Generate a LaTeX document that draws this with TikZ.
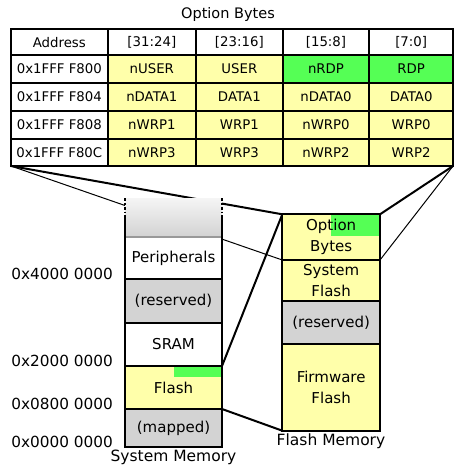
\documentclass[tikz,border=0pt]{standalone}
\usepackage{fontspec}
\setmainfont{DejaVu Sans}
\usetikzlibrary{backgrounds}
\definecolor{yel}{HTML}{FFFFAA}
\definecolor{grn}{HTML}{55FF55}
\definecolor{gry}{HTML}{D3D3D3}
\definecolor{midgray}{HTML}{999999}
\newcommand\tcell[7]{\node[cell, fill=#6, minimum width=#4pt, minimum height=#5pt] (#1) at (#2,#3) {#7};}
\begin{document}
\begin{tikzpicture}[x=1pt,y=-1pt,
  cell/.style={draw, line width=2pt, anchor=north west, inner sep=0pt, outer sep=0pt, font=\fontsize{13.3}{15}\selectfont},
  sec/.style={anchor=north west, inner sep=0pt, outer sep=0pt, minimum width=97pt, align=center, font=\fontsize{15}{21}\selectfont},
  fsec/.style={sec, draw, line width=2pt, minimum width=97.7pt},
  thk/.style={line width=2pt},
  thn/.style={line width=1pt},
  lbl/.style={anchor=base east, inner sep=0pt, font=\fontsize{15.3}{18}\selectfont},
  captxt/.style={inner sep=0pt, font=\fontsize{15.5}{18}\selectfont}]
\useasboundingbox (0,0) rectangle (454,466);

\node[inner sep=0pt, font=\fontsize{14.5}{17}\selectfont] (title) at (228,14) {Option Bytes};

% table
\tcell{t-0-0}{11}{29.3}{96.7}{25.7}{white}{Address}
\tcell{t-0-1}{107.7}{29.3}{88.3}{25.7}{white}{[31:24]}
\tcell{t-0-2}{196}{29.3}{86.7}{25.7}{white}{[23:16]}
\tcell{t-0-3}{282.7}{29.3}{86.6}{25.7}{white}{[15:8]}
\tcell{t-0-4}{369.3}{29.3}{83.7}{25.7}{white}{[7:0]}
\tcell{t-1-0}{11}{55}{96.7}{28.3}{white}{0x1FFF F800}
\tcell{t-1-1}{107.7}{55}{88.3}{28.3}{yel}{nUSER}
\tcell{t-1-2}{196}{55}{86.7}{28.3}{yel}{USER}
\tcell{t-1-3}{282.7}{55}{86.6}{28.3}{grn}{nRDP}
\tcell{t-1-4}{369.3}{55}{83.7}{28.3}{grn}{RDP}
\tcell{t-2-0}{11}{83.3}{96.7}{27.7}{white}{0x1FFF F804}
\tcell{t-2-1}{107.7}{83.3}{88.3}{27.7}{yel}{nDATA1}
\tcell{t-2-2}{196}{83.3}{86.7}{27.7}{yel}{DATA1}
\tcell{t-2-3}{282.7}{83.3}{86.6}{27.7}{yel}{nDATA0}
\tcell{t-2-4}{369.3}{83.3}{83.7}{27.7}{yel}{DATA0}
\tcell{t-3-0}{11}{111}{96.7}{28}{white}{0x1FFF F808}
\tcell{t-3-1}{107.7}{111}{88.3}{28}{yel}{nWRP1}
\tcell{t-3-2}{196}{111}{86.7}{28}{yel}{WRP1}
\tcell{t-3-3}{282.7}{111}{86.6}{28}{yel}{nWRP0}
\tcell{t-3-4}{369.3}{111}{83.7}{28}{yel}{WRP0}
\tcell{t-4-0}{11}{139}{96.7}{27}{white}{0x1FFF F80C}
\tcell{t-4-1}{107.7}{139}{88.3}{27}{yel}{nWRP3}
\tcell{t-4-2}{196}{139}{86.7}{27}{yel}{WRP3}
\tcell{t-4-3}{282.7}{139}{86.6}{27}{yel}{nWRP2}
\tcell{t-4-4}{369.3}{139}{83.7}{27}{yel}{WRP2}

% system memory
\node[sec, minimum height=39pt, top color=gray!8, bottom color=gray!35] (grad) at (125,198) {};
\node[sec, minimum height=42pt, fill=white] (per) at (125,237) {Peripherals};
\node[sec, minimum height=43.7pt, fill=gry] (sres) at (125,279) {(reserved)};
\node[sec, minimum height=43.3pt, fill=white] (sram) at (125,322.7) {SRAM};
\node[sec, minimum height=43pt, fill=yel,
  path picture={\fill[grn] ([xshift=-48pt]path picture bounding box.north east) rectangle ([yshift=-10.7pt]path picture bounding box.north east);}] (sfl) at (125,366) {Flash};
\node[sec, minimum height=38.3pt, fill=gry] (map) at (125,409) {(mapped)};
\draw[midgray, line width=1.5pt] (per.north west) -- (per.north east);
\draw[thk] ([shift={(0,17)}]grad.north west) -- (map.south west) -- (map.south east) -- ([shift={(0,17)}]grad.north east);
\draw[thk, dash pattern=on 3pt off 2pt on 1.5pt off 2pt] (grad.north west) -- ++(0,17);
\draw[thk, dash pattern=on 3pt off 2pt on 1.5pt off 2pt] (grad.north east) -- ++(0,17);
\draw[thk] (sres.north west) -- (sres.north east);
\draw[thk] (sram.north west) -- (sram.north east);
\draw[thk] (sfl.north west) -- (sfl.north east);
\draw[thk] (map.north west) -- (map.north east);
\node[captxt, anchor=north] (smcap) at (173.5,449.5) {System Memory};

% flash memory
\node[fsec, minimum height=45.7pt, fill=yel,
  path picture={\fill[grn] ([xshift=-49pt]path picture bounding box.north east) rectangle ([yshift=-21.4pt]path picture bounding box.north east);}] (opt) at (282.3,214.3) {Option\\Bytes};
\node[fsec, minimum height=40.7pt, fill=yel] (sys) at (282.3,260) {System\\Flash};
\node[fsec, minimum height=43.6pt, fill=gry] (fres) at (282.3,300.7) {(reserved)};
\node[fsec, minimum height=86.4pt, fill=yel] (fw) at (282.3,344.3) {Firmware\\Flash};
\node[captxt, anchor=north] (fmcap) at (331,434) {Flash Memory};

% address labels
\node[lbl] (a4) at (113,279) {0x4000 0000};
\node[lbl] (a2) at (113,366) {0x2000 0000};
\node[lbl] (a08) at (113,409) {0x0800 0000};
\node[lbl] (a0) at (113,447.3) {0x0000 0000};

% connectors
\begin{pgfonlayer}{background}
\draw[thk] (t-4-0.south west) -- (opt.north west);
\draw[thn] (t-4-0.south west) -- (opt.south west);
\draw[thk] (t-4-4.south east) -- (opt.north east);
\draw[thn] (t-4-4.south east) -- (opt.south east);
\draw[thk] (sfl.north east) -- (opt.north west);
\draw[thk] (sfl.south east) -- (fw.south west);
\end{pgfonlayer}
\end{tikzpicture}
\end{document}
